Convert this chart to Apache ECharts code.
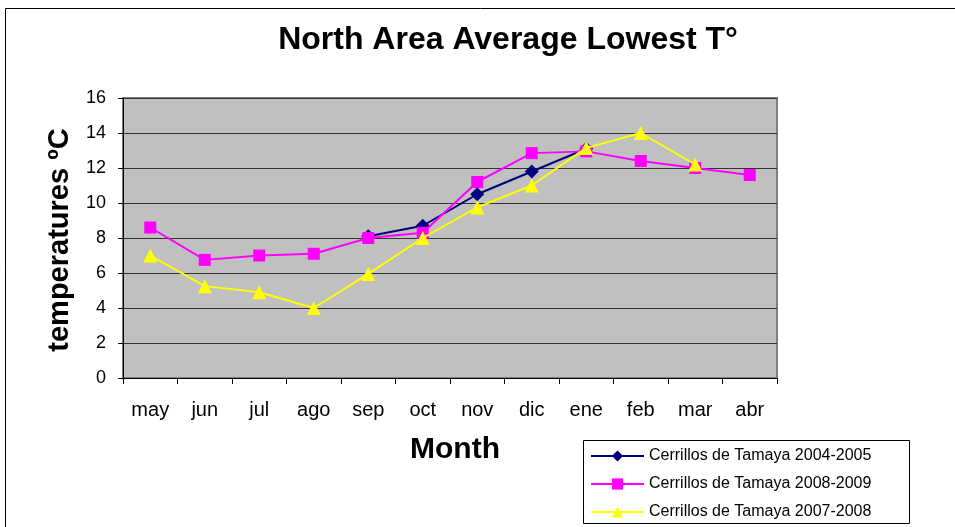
<!DOCTYPE html>
<html>
<head>
<meta charset="utf-8">
<script src="https://cdn.jsdelivr.net/npm/echarts@6/dist/echarts.min.js"></script>
<style>
  html, body { margin: 0; padding: 0; background: #fff; }
  #chart { width: 955px; height: 527px; }
</style>
</head>
<body>
<div id="chart"></div>
<script>
var months = ["may", "jun", "jul", "ago", "sep", "oct", "nov", "dic", "ene", "feb", "mar", "abr"];
var cerrillos0405 = [null, null, null, null, 8.1, 8.7, 10.5, 11.8, 13.1, null, null, null];
var cerrillos0809 = [8.6, 6.75, 7.0, 7.1, 8.0, 8.3, 11.2, 12.85, 12.95, 12.4, 12.0, 11.6];
var cerrillos0708 = [7.0, 5.25, 4.9, 4.0, 5.95, 8.0, 9.75, 11.0, 13.15, 14.0, 12.2, null];

var chart = echarts.init(document.getElementById("chart"));

var font = "Liberation Sans, Arial, sans-serif";

chart.setOption({
  animation: false,
  title: {
    text: "North Area Average Lowest T°",
    left: 503,
    top: 19,
    textAlign: "center",
    textStyle: { fontFamily: font, fontSize: 32, fontWeight: "bold", color: "#000" }
  },
  graphic: [
    {
      type: "rect",
      shape: { x: 5.5, y: 8.5, width: 960, height: 530 },
      style: { fill: null, stroke: "#000", lineWidth: 1 },
      z: -10
    },
    {
      type: "rect",
      shape: { x: 583.5, y: 440.5, width: 326, height: 83 },
      style: { fill: "#fff", stroke: "#000", lineWidth: 1 },
      z: 0
    },
    {
      // y axis title, placed like the original
      type: "text",
      x: 60,
      y: 240,
      rotation: Math.PI / 2,
      style: {
        text: "temperatures ºC",
        fontFamily: font,
        fontSize: 29,
        fontWeight: "bold",
        fill: "#000",
        align: "center",
        verticalAlign: "middle"
      }
    }
  ],
  legend: {
    orient: "vertical",
    left: 585,
    top: 443,
    itemGap: 12,
    itemWidth: 53,
    itemHeight: 14,
    textStyle: { fontFamily: font, fontSize: 16, color: "#000" },
    data: ["Cerrillos de Tamaya 2004-2005", "Cerrillos de Tamaya 2008-2009", "Cerrillos de Tamaya 2007-2008"]
  },
  grid: {
    left: 123,
    right: 178,
    top: 98,
    bottom: 149,
    show: true,
    backgroundColor: "#C0C0C0",
    borderColor: "#808080",
    borderWidth: 2
  },
  xAxis: {
    type: "category",
    data: months,
    boundaryGap: true,
    name: "Month",
    nameLocation: "middle",
    nameGap: 57,
    nameTextStyle: { fontFamily: font, fontSize: 30, fontWeight: "bold", color: "#000", padding: [0, 0, 0, 10] },
    axisLine: { lineStyle: { color: "#000", width: 1 } },
    axisTick: { show: true, length: 6, lineStyle: { color: "#000" } },
    axisLabel: { fontFamily: font, fontSize: 20, color: "#000", margin: 22 },
    splitLine: { show: false }
  },
  yAxis: {
    type: "value",
    min: 0,
    max: 16,
    interval: 2,
    axisLine: { show: true, lineStyle: { color: "#000", width: 1 } },
    axisTick: { show: true, length: 5, lineStyle: { color: "#000" } },
    axisLabel: { fontFamily: font, fontSize: 18, color: "#000", margin: 17 },
    splitLine: { show: true, lineStyle: { color: "#333", width: 1 } }
  },
  series: [
    {
      name: "Cerrillos de Tamaya 2004-2005",
      type: "line",
      data: cerrillos0405,
      symbol: "diamond",
      symbolSize: 14,
      itemStyle: { color: "#000080" },
      lineStyle: { color: "#000080", width: 2 },
      z: 3
    },
    {
      name: "Cerrillos de Tamaya 2008-2009",
      type: "line",
      data: cerrillos0809,
      symbol: "rect",
      symbolSize: 12,
      itemStyle: { color: "#FF00FF" },
      lineStyle: { color: "#FF00FF", width: 2 },
      z: 4
    },
    {
      name: "Cerrillos de Tamaya 2007-2008",
      type: "line",
      data: cerrillos0708,
      symbol: "triangle",
      symbolSize: 14,
      itemStyle: { color: "#FFFF00" },
      lineStyle: { color: "#FFFF00", width: 2 },
      z: 5
    }
  ]
});
</script>
</body>
</html>
